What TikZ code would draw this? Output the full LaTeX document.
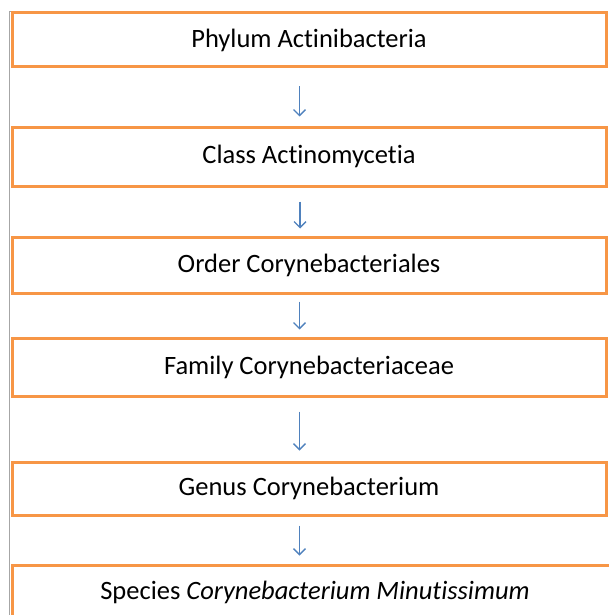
\documentclass[tikz,border=0pt]{standalone}
\usepackage{fontspec}
\setmainfont{Carlito}[Ligatures=CommonOff]
\usetikzlibrary{arrows.meta}
\definecolor{boxorange}{HTML}{F79646}
\definecolor{arrblue}{HTML}{4F81BD}
\definecolor{framegrey}{HTML}{A6A6A6}
\tikzset{
  taxbox/.style={draw=boxorange, line width=3pt, rectangle, inner sep=0pt,
    minimum width=594pt, font=\fontsize{26.5}{30}\selectfont, text=black},
  arr/.style={draw=arrblue, line width=1.3pt, -{Straight Barb[length=6pt,width=12pt,line width=1.3pt]}},
}
\begin{document}
\begin{tikzpicture}[x=1pt,y=-1pt]
\useasboundingbox (0,0) rectangle (609,615);
\clip (0,0) rectangle (609,615);
\draw[framegrey, line width=1pt] (9.5,615) -- (9.5,12) -- (607,12);
\node[taxbox, minimum height=54pt] (b1) at (309,40) {Phylum Actinibacteria};
\node[taxbox, minimum height=59pt] (b2) at (309,156.5) {Class Actinomycetia};
\node[taxbox, minimum height=56pt] (b3) at (309,265) {Order Corynebacteriales};
\node[taxbox, minimum height=58pt] (b4) at (309,367) {Family Corynebacteriaceae};
\node[taxbox, minimum height=53pt] (b5) at (309,488.5) {Genus Corynebacterium};
\node[taxbox, minimum height=54pt, minimum width=606pt] (b6) at (315,592) {Species \textit{Corynebacterium Minutissimum}};
\draw[arr, shorten <=18pt, shorten >=9pt] ([xshift=-9.5pt]b1.south) -- ([xshift=-9.5pt]b2.north);
\draw[arr, shorten <=14pt, shorten >=7pt] ([xshift=-9pt]b2.south) -- ([xshift=-9pt]b3.north);
\draw[arr, shorten <=7pt, shorten >=7pt] ([xshift=-9.5pt]b3.south) -- ([xshift=-9.5pt]b4.north);
\draw[arr, shorten <=14pt, shorten >=10pt] ([xshift=-9.5pt]b4.south) -- ([xshift=-9.5pt]b5.north);
\draw[arr, shorten <=9pt, shorten >=8pt] ([xshift=-9.5pt]b5.south) -- ([xshift=-15.5pt]b6.north);
\end{tikzpicture}
\end{document}
